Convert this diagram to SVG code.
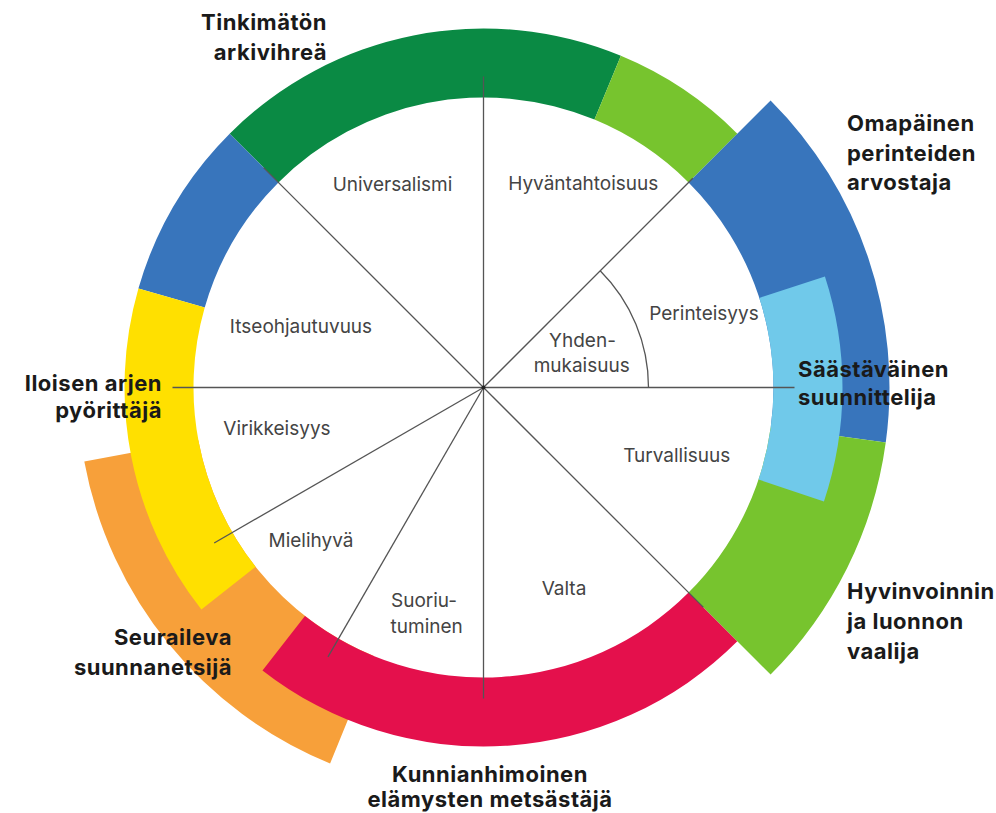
<svg xmlns="http://www.w3.org/2000/svg" width="996" height="813" viewBox="0 0 996 813">
<style>
.lbl{font-family:Inter,"Liberation Sans",sans-serif;font-size:19px;fill:#444;text-anchor:middle}
.ttl{font-family:Inter,"Liberation Sans",sans-serif;font-size:22px;font-weight:700;fill:#1a1a1a;letter-spacing:0.5px}
.ln{stroke:#555;stroke-width:1.3;fill:none}
</style>
<rect width="996" height="813" fill="#fff"/>
<g id="ring">
<path id="seg-universalism" fill="#0A8A44" d="M229.65,133.65 A359,359 0 0 1 620.88,55.83 L594.48,119.57 A290,290 0 0 0 278.44,182.44 Z"/>
<path id="seg-benevolence" fill="#77C42E" d="M620.88,55.83 A359,359 0 0 1 737.35,133.65 L688.56,182.44 A290,290 0 0 0 594.48,119.57 Z"/>
<path id="seg-selfdirection" fill="#3875BC" d="M138.41,288.55 A359,359 0 0 1 229.65,133.65 L278.44,182.44 A290,290 0 0 0 204.73,307.56 Z"/>
<path id="seg-orange" fill="#F7A03A" d="M330.10,763.40 A406,406 0 0 1 84.30,461.49 L198.36,440.35 A290,290 0 0 0 373.93,656.00 Z"/>
<path id="seg-yellow" fill="#FFE000" d="M201.39,609.51 A359,359 0 0 1 138.41,288.55 L204.73,307.56 A290,290 0 0 0 255.62,566.84 Z"/>
<path id="seg-red" fill="#E4104C" d="M737.35,641.35 A359,359 0 0 1 262.48,670.40 L304.96,616.02 A290,290 0 0 0 688.56,592.56 Z"/>
<path id="seg-darkblue" fill="#3875BC" d="M770.58,100.42 A406,406 0 0 1 885.74,442.60 L770.82,426.86 A290,290 0 0 0 688.56,182.44 Z"/>
<path id="seg-green" fill="#77C42E" d="M885.74,442.60 A406,406 0 0 1 770.58,674.58 L688.56,592.56 A290,290 0 0 0 770.82,426.86 Z"/>
<path id="seg-lightblue" fill="#70C9EA" d="M824.93,276.56 A359,359 0 0 1 823.95,501.41 L758.51,479.52 A290,290 0 0 0 759.31,297.88 Z"/>
</g>
<g id="connectors">
<line class="ln" x1="483.5" y1="387.5" x2="794.5" y2="387.5"/>
<line class="ln" x1="483.5" y1="387.5" x2="703.41" y2="607.41"/>
<line class="ln" x1="483.5" y1="387.5" x2="483.5" y2="698.5"/>
<line class="ln" x1="483.5" y1="387.5" x2="328" y2="656.83"/>
<line class="ln" x1="483.5" y1="387.5" x2="214.17" y2="543"/>
<line class="ln" x1="483.5" y1="387.5" x2="172.5" y2="387.5"/>
<line class="ln" x1="483.5" y1="387.5" x2="263.59" y2="167.59"/>
<line class="ln" x1="483.5" y1="387.5" x2="483.5" y2="76.5"/>
<line class="ln" x1="483.5" y1="387.5" x2="692.8" y2="178.2"/>
<path class="ln" d="M600.17,270.83 A165,165 0 0 1 648.5,387.5"/>
<circle cx="483.5" cy="387.5" r="2" fill="#222"/>
</g>
<g id="values">
<text class="lbl" x="392.5" y="191">Universalismi</text>
<text class="lbl" x="583.3" y="190">Hyväntahtoisuus</text>
<text class="lbl" x="704" y="320">Perinteisyys</text>
<text class="lbl" x="582.5" y="347">Yhden-</text>
<text class="lbl" x="581.7" y="372">mukaisuus</text>
<text class="lbl" x="301" y="333">Itseohjautuvuus</text>
<text class="lbl" x="277" y="435">Virikkeisyys</text>
<text class="lbl" x="676.7" y="462">Turvallisuus</text>
<text class="lbl" x="311" y="547">Mielihyvä</text>
<text class="lbl" x="564" y="595">Valta</text>
<text class="lbl" x="424" y="607">Suoriu-</text>
<text class="lbl" x="426.7" y="633">tuminen</text>
</g>
<g id="profile-tinkimaton">
<text class="ttl" x="327" y="30" text-anchor="end">Tinkimätön</text>
<text class="ttl" x="327" y="60" text-anchor="end">arkivihreä</text>
</g>
<g id="profile-omapainen">
<text class="ttl" x="847" y="131">Omapäinen</text>
<text class="ttl" x="847" y="161">perinteiden</text>
<text class="ttl" x="847" y="190">arvostaja</text>
</g>
<g id="profile-saastavainen">
<text class="ttl" x="798" y="377">Säästäväinen</text>
<text class="ttl" x="798" y="405">suunnittelija</text>
</g>
<g id="profile-hyvinvoinnin">
<text class="ttl" x="847" y="599">Hyvinvoinnin</text>
<text class="ttl" x="847" y="629">ja luonnon</text>
<text class="ttl" x="847" y="659">vaalija</text>
</g>
<g id="profile-iloisen">
<text class="ttl" x="162" y="391" text-anchor="end">Iloisen arjen</text>
<text class="ttl" x="162" y="418" text-anchor="end">pyörittäjä</text>
</g>
<g id="profile-seuraileva">
<text class="ttl" x="232" y="645" text-anchor="end">Seuraileva</text>
<text class="ttl" x="232" y="675" text-anchor="end">suunnanetsijä</text>
</g>
<g id="profile-kunnianhimoinen">
<text class="ttl" x="490" y="782" text-anchor="middle">Kunnianhimoinen</text>
<text class="ttl" x="490" y="807" text-anchor="middle">elämysten metsästäjä</text>
</g>
</svg>
